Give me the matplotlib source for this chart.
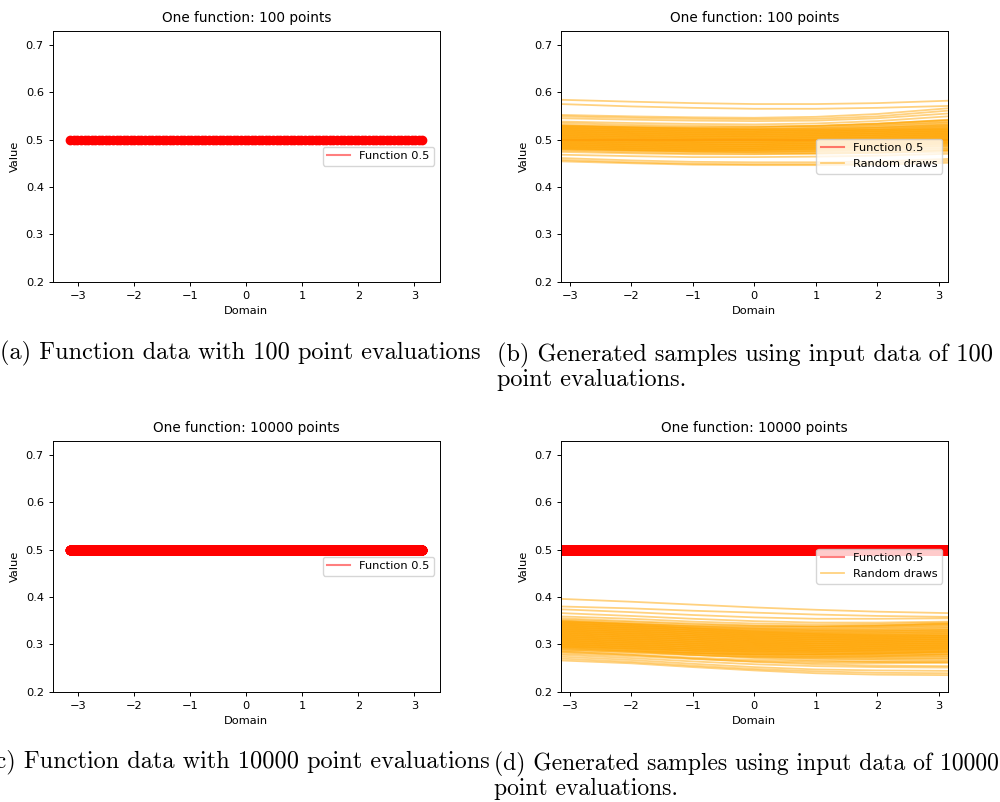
import numpy as np
import matplotlib
matplotlib.use('Agg')
import matplotlib.pyplot as plt

# Общие настройки шрифтов и линий
plt.rcParams['font.size'] = 8.2
plt.rcParams['axes.linewidth'] = 0.7
plt.rcParams['xtick.major.size'] = 2.9
plt.rcParams['ytick.major.size'] = 2.9
plt.rcParams['xtick.major.width'] = 0.7
plt.rcParams['ytick.major.width'] = 0.7

# Функция: константа 0.5
func_value = 0.5
n_points_top = 100
n_points_bottom = 10000

# Точки по оси x, в которых считаны случайные кривые
draw_x = [-np.pi, -2, -1, 0, 1, 2, np.pi]

# Случайные кривые (100 точек)
draws_100 = [
    [0.584, 0.580, 0.577, 0.575, 0.575, 0.577, 0.582],
    [0.575, 0.570, 0.567, 0.565, 0.565, 0.567, 0.571],
    [0.552, 0.549, 0.547, 0.546, 0.548, 0.554, 0.566],
    [0.549, 0.546, 0.544, 0.543, 0.544, 0.549, 0.561],
    [0.545, 0.542, 0.540, 0.539, 0.540, 0.545, 0.555],
    [0.538, 0.535, 0.533, 0.532, 0.534, 0.539, 0.549],
    [0.535, 0.531, 0.529, 0.528, 0.529, 0.533, 0.542],
    [0.531, 0.528, 0.526, 0.526, 0.528, 0.533, 0.540],
    [0.530, 0.526, 0.523, 0.521, 0.520, 0.520, 0.522],
    [0.529, 0.525, 0.523, 0.522, 0.523, 0.525, 0.530],
    [0.528, 0.526, 0.525, 0.526, 0.529, 0.534, 0.541],
    [0.527, 0.524, 0.522, 0.522, 0.524, 0.529, 0.536],
    [0.526, 0.522, 0.519, 0.517, 0.516, 0.516, 0.518],
    [0.525, 0.521, 0.519, 0.518, 0.519, 0.521, 0.526],
    [0.524, 0.522, 0.521, 0.522, 0.525, 0.530, 0.537],
    [0.523, 0.520, 0.518, 0.518, 0.520, 0.525, 0.532],
    [0.522, 0.518, 0.515, 0.513, 0.512, 0.512, 0.514],
    [0.521, 0.517, 0.515, 0.514, 0.515, 0.517, 0.522],
    [0.520, 0.518, 0.517, 0.518, 0.521, 0.526, 0.533],
    [0.519, 0.516, 0.514, 0.514, 0.516, 0.521, 0.528],
    [0.518, 0.514, 0.511, 0.509, 0.508, 0.508, 0.510],
    [0.517, 0.513, 0.511, 0.510, 0.511, 0.513, 0.518],
    [0.516, 0.514, 0.513, 0.514, 0.517, 0.522, 0.529],
    [0.515, 0.512, 0.510, 0.510, 0.512, 0.517, 0.524],
    [0.514, 0.510, 0.507, 0.505, 0.504, 0.504, 0.506],
    [0.513, 0.509, 0.507, 0.506, 0.507, 0.509, 0.514],
    [0.512, 0.510, 0.509, 0.510, 0.513, 0.518, 0.525],
    [0.511, 0.508, 0.506, 0.506, 0.508, 0.513, 0.520],
    [0.510, 0.506, 0.503, 0.501, 0.500, 0.500, 0.502],
    [0.509, 0.505, 0.503, 0.502, 0.503, 0.505, 0.510],
    [0.508, 0.506, 0.505, 0.506, 0.509, 0.514, 0.521],
    [0.507, 0.504, 0.502, 0.502, 0.504, 0.509, 0.516],
    [0.506, 0.502, 0.499, 0.497, 0.496, 0.496, 0.498],
    [0.505, 0.501, 0.499, 0.498, 0.499, 0.501, 0.506],
    [0.504, 0.502, 0.501, 0.502, 0.505, 0.510, 0.517],
    [0.503, 0.500, 0.498, 0.498, 0.500, 0.505, 0.512],
    [0.502, 0.498, 0.495, 0.493, 0.492, 0.492, 0.494],
    [0.501, 0.497, 0.495, 0.494, 0.495, 0.497, 0.502],
    [0.500, 0.498, 0.497, 0.498, 0.501, 0.506, 0.513],
    [0.499, 0.496, 0.494, 0.494, 0.496, 0.501, 0.508],
    [0.498, 0.494, 0.491, 0.489, 0.488, 0.488, 0.490],
    [0.497, 0.493, 0.491, 0.490, 0.491, 0.493, 0.498],
    [0.496, 0.494, 0.493, 0.494, 0.497, 0.502, 0.509],
    [0.495, 0.492, 0.490, 0.490, 0.492, 0.497, 0.504],
    [0.494, 0.490, 0.487, 0.485, 0.484, 0.484, 0.486],
    [0.493, 0.489, 0.487, 0.486, 0.487, 0.489, 0.494],
    [0.492, 0.490, 0.489, 0.490, 0.493, 0.498, 0.505],
    [0.491, 0.488, 0.486, 0.486, 0.488, 0.493, 0.500],
    [0.490, 0.486, 0.483, 0.481, 0.480, 0.480, 0.482],
    [0.489, 0.485, 0.483, 0.482, 0.483, 0.485, 0.490],
    [0.488, 0.486, 0.485, 0.486, 0.489, 0.494, 0.501],
    [0.487, 0.484, 0.482, 0.482, 0.484, 0.489, 0.496],
    [0.486, 0.482, 0.479, 0.477, 0.476, 0.476, 0.478],
    [0.485, 0.481, 0.479, 0.478, 0.479, 0.481, 0.486],
    [0.484, 0.482, 0.481, 0.482, 0.485, 0.490, 0.497],
    [0.483, 0.480, 0.478, 0.478, 0.480, 0.485, 0.492],
    [0.482, 0.478, 0.475, 0.473, 0.472, 0.472, 0.474],
    [0.481, 0.477, 0.475, 0.474, 0.475, 0.477, 0.482],
    [0.480, 0.478, 0.477, 0.478, 0.481, 0.486, 0.493],
    [0.479, 0.476, 0.474, 0.474, 0.476, 0.481, 0.488],
    [0.477, 0.473, 0.471, 0.470, 0.471, 0.473, 0.478],
    [0.474, 0.471, 0.469, 0.469, 0.470, 0.472, 0.477],
    [0.468, 0.465, 0.463, 0.463, 0.464, 0.466, 0.470],
    [0.461, 0.456, 0.453, 0.452, 0.452, 0.454, 0.459],
    [0.457, 0.452, 0.449, 0.448, 0.448, 0.450, 0.455],
    [0.454, 0.450, 0.447, 0.446, 0.446, 0.447, 0.451],
]

# Случайные кривые (10000 точек)
draws_10000 = [
    [0.396, 0.390, 0.384, 0.378, 0.373, 0.369, 0.366],
    [0.380, 0.376, 0.371, 0.367, 0.363, 0.360, 0.358],
    [0.374, 0.368, 0.362, 0.357, 0.354, 0.354, 0.355],
    [0.366, 0.360, 0.354, 0.349, 0.346, 0.346, 0.348],
    [0.359, 0.354, 0.348, 0.344, 0.342, 0.343, 0.346],
    [0.355, 0.349, 0.344, 0.340, 0.338, 0.339, 0.343],
    [0.352, 0.347, 0.342, 0.339, 0.338, 0.340, 0.344],
    [0.350, 0.344, 0.338, 0.333, 0.330, 0.329, 0.330],
    [0.349, 0.342, 0.334, 0.327, 0.322, 0.319, 0.318],
    [0.348, 0.343, 0.338, 0.335, 0.334, 0.336, 0.340],
    [0.347, 0.343, 0.339, 0.337, 0.337, 0.339, 0.343],
    [0.346, 0.340, 0.334, 0.329, 0.326, 0.325, 0.326],
    [0.345, 0.338, 0.330, 0.323, 0.318, 0.315, 0.314],
    [0.344, 0.339, 0.334, 0.331, 0.330, 0.332, 0.336],
    [0.343, 0.339, 0.335, 0.333, 0.333, 0.335, 0.339],
    [0.342, 0.336, 0.330, 0.325, 0.322, 0.321, 0.322],
    [0.341, 0.334, 0.326, 0.319, 0.314, 0.311, 0.310],
    [0.340, 0.335, 0.330, 0.327, 0.326, 0.328, 0.332],
    [0.339, 0.335, 0.331, 0.329, 0.329, 0.331, 0.335],
    [0.338, 0.332, 0.326, 0.321, 0.318, 0.317, 0.318],
    [0.337, 0.330, 0.322, 0.315, 0.310, 0.307, 0.306],
    [0.336, 0.331, 0.326, 0.323, 0.322, 0.324, 0.328],
    [0.335, 0.331, 0.327, 0.325, 0.325, 0.327, 0.331],
    [0.334, 0.328, 0.322, 0.317, 0.314, 0.313, 0.314],
    [0.333, 0.326, 0.318, 0.311, 0.306, 0.303, 0.302],
    [0.332, 0.327, 0.322, 0.319, 0.318, 0.320, 0.324],
    [0.331, 0.327, 0.323, 0.321, 0.321, 0.323, 0.327],
    [0.330, 0.324, 0.318, 0.313, 0.310, 0.309, 0.310],
    [0.329, 0.322, 0.314, 0.307, 0.302, 0.299, 0.298],
    [0.328, 0.323, 0.318, 0.315, 0.314, 0.316, 0.320],
    [0.327, 0.323, 0.319, 0.317, 0.317, 0.319, 0.323],
    [0.326, 0.320, 0.314, 0.309, 0.306, 0.305, 0.306],
    [0.325, 0.318, 0.310, 0.303, 0.298, 0.295, 0.294],
    [0.324, 0.319, 0.314, 0.311, 0.310, 0.312, 0.316],
    [0.323, 0.319, 0.315, 0.313, 0.313, 0.315, 0.319],
    [0.322, 0.316, 0.310, 0.305, 0.302, 0.301, 0.302],
    [0.321, 0.314, 0.306, 0.299, 0.294, 0.291, 0.290],
    [0.320, 0.315, 0.310, 0.307, 0.306, 0.308, 0.312],
    [0.319, 0.315, 0.311, 0.309, 0.309, 0.311, 0.315],
    [0.318, 0.312, 0.306, 0.301, 0.298, 0.297, 0.298],
    [0.317, 0.310, 0.302, 0.295, 0.290, 0.287, 0.286],
    [0.316, 0.311, 0.306, 0.303, 0.302, 0.304, 0.308],
    [0.315, 0.311, 0.307, 0.305, 0.305, 0.307, 0.311],
    [0.314, 0.308, 0.302, 0.297, 0.294, 0.293, 0.294],
    [0.313, 0.306, 0.298, 0.291, 0.286, 0.283, 0.282],
    [0.312, 0.307, 0.302, 0.299, 0.298, 0.300, 0.304],
    [0.311, 0.307, 0.303, 0.301, 0.301, 0.303, 0.307],
    [0.310, 0.304, 0.298, 0.293, 0.290, 0.289, 0.290],
    [0.309, 0.302, 0.294, 0.287, 0.282, 0.279, 0.278],
    [0.308, 0.303, 0.298, 0.295, 0.294, 0.296, 0.300],
    [0.307, 0.303, 0.299, 0.297, 0.297, 0.299, 0.303],
    [0.306, 0.300, 0.294, 0.289, 0.286, 0.285, 0.286],
    [0.305, 0.298, 0.290, 0.283, 0.278, 0.275, 0.274],
    [0.304, 0.299, 0.294, 0.291, 0.290, 0.292, 0.296],
    [0.303, 0.299, 0.295, 0.293, 0.293, 0.295, 0.299],
    [0.302, 0.296, 0.290, 0.285, 0.282, 0.281, 0.282],
    [0.301, 0.294, 0.286, 0.279, 0.274, 0.271, 0.270],
    [0.300, 0.295, 0.290, 0.287, 0.286, 0.288, 0.292],
    [0.299, 0.295, 0.291, 0.289, 0.289, 0.291, 0.295],
    [0.298, 0.292, 0.286, 0.281, 0.278, 0.277, 0.278],
    [0.297, 0.290, 0.282, 0.275, 0.270, 0.267, 0.266],
    [0.296, 0.291, 0.286, 0.283, 0.282, 0.284, 0.288],
    [0.295, 0.291, 0.287, 0.285, 0.285, 0.287, 0.291],
    [0.294, 0.288, 0.282, 0.277, 0.274, 0.273, 0.274],
    [0.293, 0.286, 0.278, 0.271, 0.266, 0.263, 0.262],
    [0.292, 0.287, 0.282, 0.279, 0.278, 0.280, 0.284],
    [0.290, 0.284, 0.278, 0.273, 0.270, 0.269, 0.270],
    [0.289, 0.285, 0.281, 0.279, 0.279, 0.281, 0.285],
    [0.287, 0.282, 0.277, 0.274, 0.273, 0.275, 0.279],
    [0.285, 0.278, 0.270, 0.263, 0.258, 0.255, 0.254],
    [0.284, 0.278, 0.272, 0.267, 0.264, 0.263, 0.264],
    [0.281, 0.275, 0.269, 0.264, 0.261, 0.260, 0.261],
    [0.278, 0.271, 0.264, 0.258, 0.254, 0.252, 0.251],
    [0.274, 0.267, 0.259, 0.252, 0.247, 0.245, 0.244],
    [0.270, 0.263, 0.255, 0.248, 0.243, 0.240, 0.239],
    [0.266, 0.260, 0.252, 0.245, 0.239, 0.236, 0.235],
]

captions = [
    '(a) Function data with 100 point evaluations',
    '(b) Generated samples using input data of 100\npoint evaluations.',
    '(c) Function data with 10000 point evaluations',
    '(d) Generated samples using input data of 10000\npoint evaluations.',
]


def plot_function(ax, n_points, title, markers=True):
    x = np.linspace(-np.pi, np.pi, n_points)
    y = np.full(n_points, func_value)
    ax.plot(x, y, color='red', alpha=0.5, label='Function 0.5')
    if markers:
        ax.scatter(x, y, color='red')
    ax.set_title(title)
    ax.set_xlabel('Domain')
    ax.set_ylabel('Value')
    ax.set_ylim(0.2, 0.73)


def plot_draws(ax, n_points, draws, title, markers):
    plot_function(ax, n_points, title, markers)
    for i, d in enumerate(draws):
        ax.plot(draw_x, d, color='orange', alpha=0.5, lw=1.3,
                label='Random draws' if i == 0 else None)
    ax.set_xlim(-np.pi, np.pi)


fig = plt.figure(figsize=(10, 8.02), dpi=100)

ax_a = fig.add_axes([0.0527, 0.6488, 0.3873, 0.313])
ax_b = fig.add_axes([0.561, 0.6488, 0.3867, 0.313])
ax_c = fig.add_axes([0.0527, 0.1375, 0.3873, 0.313])
ax_d = fig.add_axes([0.561, 0.1375, 0.3867, 0.313])

plot_function(ax_a, n_points_top, 'One function: 100 points')
ax_a.legend(loc='center right')

plot_draws(ax_b, n_points_top, draws_100, 'One function: 100 points', markers=False)
ax_b.legend(loc='center right')

plot_function(ax_c, n_points_bottom, 'One function: 10000 points')
ax_c.legend(loc='center right')

plot_draws(ax_d, n_points_bottom, draws_10000, 'One function: 10000 points', markers=True)
ax_d.legend(loc='center right')

# Подписи под рисунками (как в LaTeX)
fig.text(0.240, 1 - 353 / 802, captions[0], ha='center', va='center',
         family='cmr10', size=17.5)
fig.text(0.497, 1 - 367 / 802, captions[1], ha='left', va='center',
         linespacing=1.0, family='cmr10', size=17.5)
fig.text(0.238, 1 - 762 / 802, captions[2], ha='center', va='center',
         family='cmr10', size=17.5)
fig.text(0.494, 1 - 776 / 802, captions[3], ha='left', va='center',
         linespacing=1.0, family='cmr10', size=17.0)

fig.savefig('out.png', dpi=100)
